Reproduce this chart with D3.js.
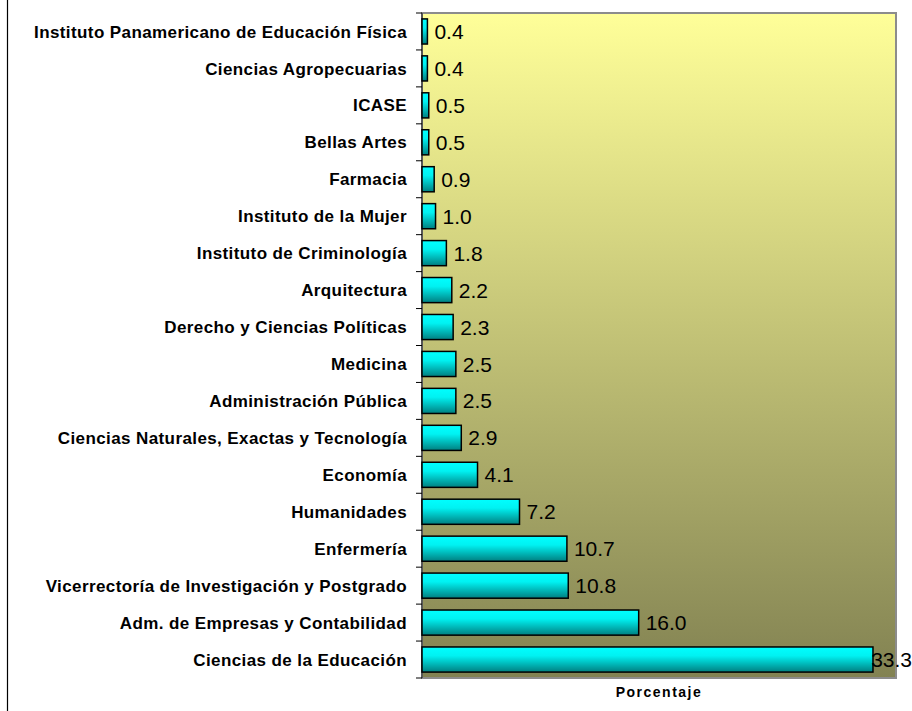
<!DOCTYPE html>
<html>
<head>
<meta charset="utf-8">
<script src="https://cdn.jsdelivr.net/npm/d3@7"></script>
<style>
  body { margin: 0; background: #fff; }
  svg { display: block; font-family: "Liberation Sans", Arial, sans-serif; }
  .cat { font-size: 17px; font-weight: bold; fill: #000; letter-spacing: 0.4px; }
  .val { font-size: 21px; fill: #000; }
  .xlabel { font-size: 14px; font-weight: bold; fill: #000; letter-spacing: 1.5px; }
</style>
</head>
<body>
<svg id="chart" width="912" height="711"></svg>
<script>
// categories from top to bottom
let categories = [
    "Instituto Panamericano de Educación Física",
    "Ciencias Agropecuarias",
    "ICASE",
    "Bellas Artes",
    "Farmacia",
    "Instituto de la Mujer",
    "Instituto de Criminología",
    "Arquitectura",
    "Derecho y Ciencias Políticas",
    "Medicina",
    "Administración Pública",
    "Ciencias Naturales, Exactas y Tecnología",
    "Economía",
    "Humanidades",
    "Enfermería",
    "Vicerrectoría de Investigación y Postgrado",
    "Adm. de Empresas y Contabilidad",
    "Ciencias de la Educación"
];
let porcentajes = [0.4, 0.4, 0.5, 0.5, 0.9, 1.0, 1.8, 2.2, 2.3, 2.5, 2.5, 2.9, 4.1, 7.2, 10.7, 10.8, 16.0, 33.3];
let x_title = "Porcentaje";

let svg = d3.select("#chart"),
    width = 912,
    height = 711;

let plot = {left: 422, right: 896, top: 13, bottom: 678};

let xScale = d3.scaleLinear()
    .domain([0, 35])
    .range([plot.left, plot.right]);

let yScale = d3.scaleBand()
    .domain(categories)
    .range([plot.top, plot.bottom])
    .paddingInner(0.32)
    .paddingOuter(0.16);

let defs = svg.append("defs");

let bg = defs.append("linearGradient")
    .attr("id", "bg")
    .attr("x1", 0).attr("y1", 0)
    .attr("x2", 0).attr("y2", 1);
bg.append("stop").attr("offset", "0%").attr("stop-color", "#ffff99");
bg.append("stop").attr("offset", "100%").attr("stop-color", "#828252");

let barGrad = defs.append("linearGradient")
    .attr("id", "bar")
    .attr("x1", 0).attr("y1", 0)
    .attr("x2", 0).attr("y2", 1);
barGrad.append("stop").attr("offset", "0%").attr("stop-color", "#00ffff");
barGrad.append("stop").attr("offset", "35%").attr("stop-color", "#00f2f2");
barGrad.append("stop").attr("offset", "100%").attr("stop-color", "#007f80");

// outer chart frame, only the left edge is in view
svg.append("line")
    .attr("x1", 7.5).attr("x2", 7.5)
    .attr("y1", 0).attr("y2", height)
    .attr("stroke", "#000")
    .attr("stroke-width", 1.2);

// plot area
svg.append("rect")
    .attr("x", plot.left)
    .attr("y", plot.top)
    .attr("width", plot.right - plot.left)
    .attr("height", plot.bottom - plot.top)
    .attr("fill", "url(#bg)")
    .attr("stroke", "#8c8c8c")
    .attr("stroke-width", 2);

// y axis with ticks at band edges
let edges = d3.range(categories.length + 1).map(i => plot.top + i * (plot.bottom - plot.top) / categories.length);

svg.append("line")
    .attr("x1", plot.left).attr("x2", plot.left)
    .attr("y1", plot.top).attr("y2", plot.bottom)
    .attr("stroke", "#444")
    .attr("stroke-width", 1.5);

svg.append("g")
    .selectAll("line")
    .data(edges)
    .enter()
    .append("line")
    .attr("x1", plot.left - 6)
    .attr("x2", plot.left)
    .attr("y1", d => d)
    .attr("y2", d => d)
    .attr("stroke", "#000");

svg.append("g")
    .selectAll("text")
    .data(categories)
    .enter()
    .append("text")
    .attr("class", "cat")
    .attr("x", 407)
    .attr("y", d => yScale(d) + yScale.bandwidth() / 2)
    .attr("dy", "0.36em")
    .attr("text-anchor", "end")
    .text(d => d);

// bars
svg.append("g")
    .selectAll("rect")
    .data(categories)
    .enter()
    .append("rect")
    .attr("x", xScale(0))
    .attr("y", d => yScale(d))
    .attr("width", (d, i) => xScale(porcentajes[i]) - xScale(0))
    .attr("height", yScale.bandwidth())
    .attr("fill", "url(#bar)")
    .attr("stroke", "#000")
    .attr("stroke-width", 1.5);

// value labels, pushed back inside the window when they would overflow
svg.append("g")
    .selectAll("text")
    .data(categories)
    .enter()
    .append("text")
    .attr("class", "val")
    .attr("x", (d, i) => xScale(porcentajes[i]) + 7)
    .attr("y", d => yScale(d) + yScale.bandwidth() / 2)
    .attr("dy", "0.36em")
    .text((d, i) => porcentajes[i].toFixed(1))
    .each(function() {
        let w = this.getComputedTextLength();
        let x = +this.getAttribute("x");
        if(x + w > width) {
            this.setAttribute("x", width - w);
        }
    });

svg.append("text")
    .attr("class", "xlabel")
    .attr("x", (plot.left + plot.right) / 2)
    .attr("y", 697)
    .attr("text-anchor", "middle")
    .text(x_title);
</script>
</body>
</html>
